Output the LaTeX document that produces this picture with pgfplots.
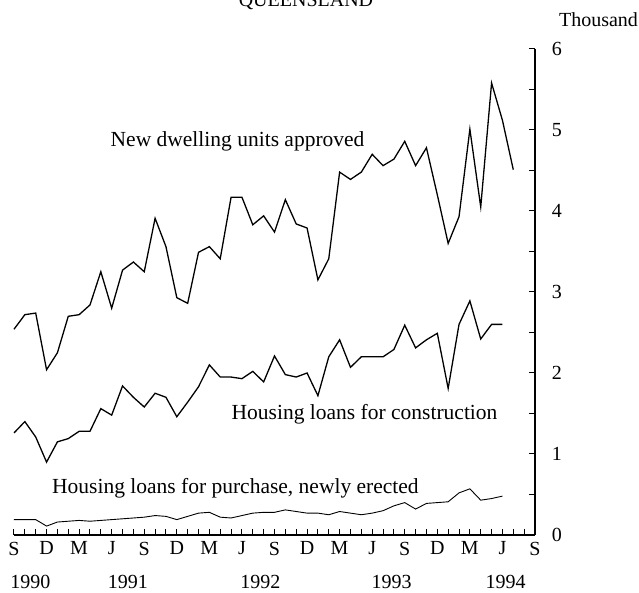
\documentclass[border=0pt]{standalone}
\usepackage{pgfplots}
\pgfplotsset{compat=1.18}
\usepackage{fontspec}
\setmainfont{Liberation Serif}

\begin{document}
\fontsize{20pt}{24pt}\selectfont
\begin{tikzpicture}
\begin{axis}[
  name=ax,
  scale only axis,
  width=521pt, height=486pt,
  xmin=0, xmax=48, ymin=0, ymax=6,
  axis x line*=bottom, axis y line*=right,
  axis line style={line width=1.3pt, black},
  tick align=inside,
  major tick length=6pt, minor tick length=6pt,
  tick style={line width=1pt, black},
  xtick={0,3,...,48},
  xticklabels={S,D,M,J,S,D,M,J,S,D,M,J,S,D,M,J,S},
  minor xtick={0,...,48},
  ytick={0,...,6},
  minor ytick={0.5,1.5,...,5.5},
  /pgf/number format/assume math mode=true,
  yticklabel style={anchor=west, xshift=10pt},
  clip=false,
]
% new dwelling units approved, Sep 1990 = 0
\addplot[black, line width=1.3pt] coordinates {
  (0,2.54) (1,2.72) (2,2.74) (3,2.04) (4,2.25) (5,2.70) (6,2.72) (7,2.84)
  (8,3.25) (9,2.80) (10,3.27) (11,3.37) (12,3.25) (13,3.91) (14,3.56) (15,2.93)
  (16,2.86) (17,3.49) (18,3.56) (19,3.41) (20,4.17) (21,4.17) (22,3.83) (23,3.94)
  (24,3.74) (25,4.14) (26,3.84) (27,3.79) (28,3.15) (29,3.41) (30,4.48) (31,4.39)
  (32,4.48) (33,4.70) (34,4.56) (35,4.64) (36,4.86) (37,4.56) (38,4.78) (39,4.20)
  (40,3.60) (41,3.93) (42,5.01) (43,4.05) (44,5.58) (45,5.12) (46,4.51)
};
% housing loans for construction
\addplot[black, line width=1.3pt] coordinates {
  (0,1.26) (1,1.40) (2,1.21) (3,0.90) (4,1.15) (5,1.19) (6,1.28) (7,1.28)
  (8,1.56) (9,1.48) (10,1.84) (11,1.70) (12,1.58) (13,1.75) (14,1.70) (15,1.46)
  (16,1.64) (17,1.83) (18,2.10) (19,1.95) (20,1.95) (21,1.93) (22,2.02) (23,1.89)
  (24,2.21) (25,1.98) (26,1.95) (27,2.00) (28,1.72) (29,2.20) (30,2.41) (31,2.07)
  (32,2.20) (33,2.20) (34,2.20) (35,2.29) (36,2.59) (37,2.31) (38,2.41) (39,2.49)
  (40,1.81) (41,2.60) (42,2.89) (43,2.42) (44,2.60) (45,2.60)
};
% housing loans for purchase, newly erected
\addplot[black, line width=0.9pt] coordinates {
  (0,0.19) (1,0.19) (2,0.19) (3,0.11) (4,0.16) (5,0.17) (6,0.18) (7,0.17)
  (8,0.18) (9,0.19) (10,0.20) (11,0.21) (12,0.22) (13,0.24) (14,0.23) (15,0.19)
  (16,0.23) (17,0.27) (18,0.28) (19,0.22) (20,0.21) (21,0.24) (22,0.27) (23,0.28)
  (24,0.28) (25,0.31) (26,0.29) (27,0.27) (28,0.27) (29,0.25) (30,0.29) (31,0.27)
  (32,0.25) (33,0.27) (34,0.30) (35,0.36) (36,0.40) (37,0.32) (38,0.39) (39,0.40)
  (40,0.41) (41,0.52) (42,0.57) (43,0.43) (44,0.45) (45,0.48)
};
\begin{scope}[every node/.style={font=\fontsize{21.5pt}{25pt}\selectfont}]
\node[anchor=base] at (axis cs:20.6,4.80) {New dwelling units approved};
\node[anchor=base] at (axis cs:32.3,1.42) {Housing loans for construction};
\node[anchor=base] at (axis cs:20.4,0.51) {Housing loans for purchase, newly erected};
\end{scope}
\node[anchor=base] at (axis cs:26.9,6.52) {QUEENSLAND};
\node[anchor=base west, inner sep=0pt] at (axis cs:50.2,6.28) {Thousand};
\node[anchor=base, yshift=-54pt] at (axis cs:1.5,0) {1990};
\node[anchor=base, yshift=-54pt] at (axis cs:10.5,0) {1991};
\node[anchor=base, yshift=-54pt] at (axis cs:22.7,0) {1992};
\node[anchor=base, yshift=-54pt] at (axis cs:34.8,0) {1993};
\node[anchor=base, yshift=-54pt] at (axis cs:45.3,0) {1994};
\end{axis}
\pgfresetboundingbox
\useasboundingbox ([xshift=-14pt,yshift=-58pt]ax.south west) rectangle ([xshift=104pt,yshift=49pt]ax.north east);
\end{tikzpicture}
\end{document}
